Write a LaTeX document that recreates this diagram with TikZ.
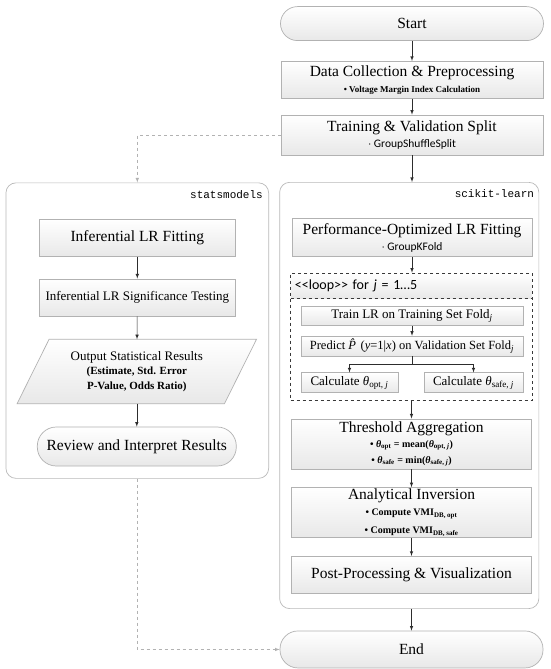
\documentclass[tikz,border=0pt]{standalone}
\usepackage{fontspec}
\setmainfont{Liberation Serif}
\setsansfont{Carlito}
\setmonofont{Liberation Mono}
\usepackage{tikz}
\usetikzlibrary{arrows,positioning,fit,backgrounds}

\newcommand{\notefont}{\fontsize{10}{12}\selectfont\bfseries}
\newcommand{\libfont}{\sffamily\fontsize{11.5}{12}\selectfont}
\newcommand{\outfont}{\fontsize{11}{13}\selectfont\bfseries}
\newcommand{\thsub}[1]{\textit{θ}\textsubscript{#1}}

\begin{document}
\begin{tikzpicture}[x=1pt, y=1pt,
    procbox/.style={draw=gray!60, rectangle, top color=white, bottom color=gray!18, minimum width=240pt, align=center, inner sep=1pt, line width=0.7pt, font=\fontsize{15.5}{17}\selectfont},
    smallbox/.style={procbox, minimum height=20pt, font=\fontsize{13}{15}\selectfont},
    termbox/.style={procbox, rounded corners=17pt, minimum width=263pt, minimum height=35pt},
    headbox/.style={rectangle, top color=white, bottom color=gray!18, minimum height=25pt, text width=233pt, inner xsep=4pt, align=left, font=\sffamily\fontsize{14}{15}\selectfont},
    loopbox/.style={draw=gray!45!black, dashed, rectangle, inner sep=0pt, line width=0.7pt},
    panel/.style={draw=gray!55, rounded corners=10pt, fill=white, inner sep=0pt, line width=0.7pt},
    paratext/.style={minimum width=175pt, minimum height=64pt, align=center, inner sep=0pt, font=\fontsize{13}{15}\selectfont},
    tag/.style={font=\ttfamily\fontsize{11}{13}\selectfont, inner sep=0pt, anchor=east},
    arrow/.style={-latex, draw=gray!35!black, line width=0.6pt},
    dasharrow/.style={arrow, dashed, draw=gray!60}
]
\useasboundingbox (0,0) rectangle (550,-669);

% main column
\node[procbox, minimum width=262pt, minimum height=40pt] (train) at (412,-135) {Training \& Validation Split\\[-1pt] \libfont $\cdot$ GroupShuffleSplit};
\node[procbox, minimum width=262pt, minimum height=37pt, above=16pt of train] (data) {Data Collection \& Preprocessing\\[-1pt] \fontsize{9}{11}\selectfont\bfseries \textbullet\ Voltage Margin Index Calculation};
\node[termbox, minimum height=34pt, above=20pt of data] (start) {Start};

% scikit-learn branch
\node[procbox, minimum height=38pt, below=63pt of train] (perf) {Performance-Optimized LR Fitting\\[-1pt] \libfont $\cdot$ GroupKFold};
\node[smallbox, minimum width=222pt, minimum height=19pt, below=49pt of perf] (trainlr) {Train LR on Training Set Fold\textsubscript{\textit{j}}};
\node[smallbox, minimum width=222pt, below=10pt of trainlr, font=\fontsize{12.5}{14}\selectfont] (pred) {Predict \textit{\^{P}}(\textit{y}=1|\textit{x}) on Validation Set Fold\textsubscript{\textit{j}}};
\node[smallbox, minimum width=97pt, below right=16pt and 0pt of pred.south west] (calcopt) {Calculate \thsub{opt, \textit{j}}};
\node[smallbox, minimum width=99pt, below left=16pt and 0pt of pred.south east] (calcsafe) {Calculate \thsub{safe, \textit{j}}};
\node[headbox, anchor=north west] (hdr) at ([xshift=-10pt,yshift=33pt]trainlr.north west) {{<}{<}loop{>}{>} for \emph{j} = 1…5};
\node[loopbox, fit={(hdr) ([xshift=9pt,yshift=-7pt]calcsafe.south east)}] (loop) {};
\draw[loopbox] (hdr.south west) -- (hdr.south east);
\node[procbox, minimum height=50pt, below=18pt of loop] (thr) {Threshold Aggregation\\[-2pt]
  \notefont \textbullet\ \thsub{opt} = mean(\thsub{opt, \textit{j}})\\[-1pt]
  \notefont \textbullet\ \thsub{safe} = min(\thsub{safe, \textit{j}})};
\node[procbox, minimum height=50pt, below=18pt of thr] (ana) {Analytical Inversion\\[-1pt]
  \notefont \textbullet\ Compute VMI\textsubscript{DB, opt}\\[1pt]
  \notefont \textbullet\ Compute VMI\textsubscript{DB, safe}};
\node[procbox, minimum height=37pt, below=18pt of ana] (post) {Post-Processing \& Visualization};
\node[termbox, minimum height=37pt, rounded corners=18pt, below=37pt of post] (end) {End};

% statsmodels branch
\node[procbox, minimum width=196pt, minimum height=37pt, left=56pt of perf] (inf) {Inferential LR Fitting};
\node[smallbox, minimum width=196pt, minimum height=37pt, below=22pt of inf] (sig) {Inferential LR Significance Testing};
\node[paratext, below=23pt of sig, xshift=-0.5pt] (out) {Output Statistical Results\\[-1pt]
  \outfont (Estimate, Std. Error\\ \outfont P-Value, Odds Ratio)};
\node[procbox, minimum width=199pt, minimum height=39pt, rounded corners=19pt, below=23pt of out] (review) {Review and Interpret Results};

\begin{scope}[on background layer]
\node[panel, fit={([xshift=-12pt,yshift=36pt]perf.north west) ([xshift=7pt,yshift=-15pt]post.south east)}] (sk) {};
\node[panel, fit={([xshift=-33pt,yshift=36pt]inf.north west) ([xshift=32pt,yshift=-12pt]review.south east)}] (sm) {};
\draw[draw=gray!60, line width=0.7pt, top color=white, bottom color=gray!18] ([xshift=-32pt]out.south west) -- (out.north west) -- ([xshift=32pt]out.north east) -- (out.south east) -- cycle;
\end{scope}

\node[tag] (smtag) at ([xshift=-6pt,yshift=-12pt]sm.north east) {statsmodels};
\node[tag] (sktag) at ([xshift=-5pt,yshift=-12pt]sk.north east) {scikit-learn};

\draw[arrow] (start) -- (data);
\draw[arrow] (data) -- (train);
\draw[arrow] (train) -- (train |- sk.north);
\draw[dasharrow] (train.west) -| (sm.north);
\draw[arrow] (perf) -- (perf |- loop.north);
\draw[arrow] (trainlr) -- (pred);
\draw[arrow] (pred.south) -- ++(0,-8) -| (calcopt.north);
\draw[arrow] (pred.south) -- ++(0,-8) -| (calcsafe.north);
\draw[arrow] (loop.south -| thr) -- (thr);
\draw[arrow] (thr) -- (ana);
\draw[arrow] (ana) -- (post);
\draw[arrow] (post |- sk.south) -- (end);
\draw[arrow] (inf) -- (sig);
\draw[arrow] (sig) -- (out);
\draw[arrow] (out) -- (review);
\draw[dasharrow] (sm.south) |- (end.west);

\end{tikzpicture}
\end{document}
